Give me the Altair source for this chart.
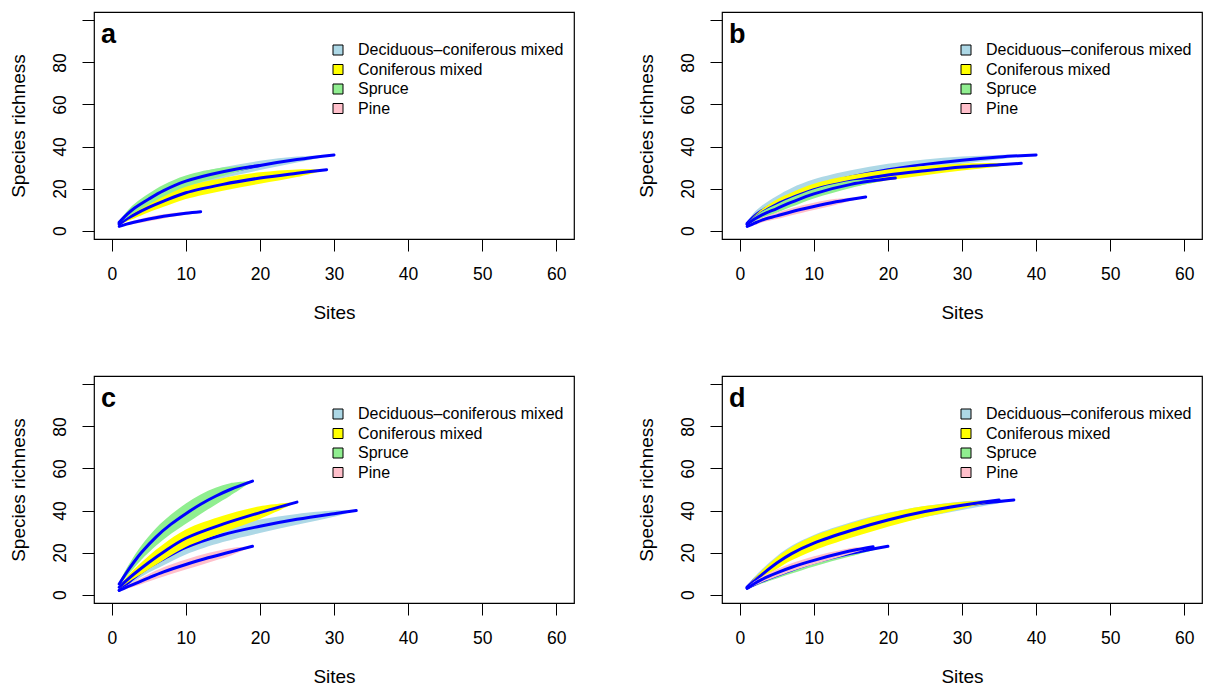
import altair as alt
import pandas as pd

TYPES = ["Deciduous\u2013coniferous mixed", "Coniferous mixed", "Spruce", "Pine"]
BAND_COLORS = ["#ADD8E6", "#FFFF00", "#90EE90", "#FFC0CB"]
LINE_COLOR = "#0000FF"
PANEL_LABELS = ["a", "b", "c", "d"]
X_TICKS = [0, 10, 20, 30, 40, 50, 60]
Y_TICKS = [0, 20, 40, 60, 80, 100]

# ---- panel a ----
A_DEC_SITES = [1, 2, 3, 5, 7, 10, 15, 20, 25, 30]
A_DEC_RICH = [3.5, 7, 10, 14.5, 18.5, 23, 27.5, 31, 33.8, 36]
A_DEC_HW = [0.5, 1.2, 1.6, 2.2, 2.5, 2.7, 2.6, 2.2, 1.4, 0]
A_CON_SITES = [1, 2, 3, 5, 7, 10, 15, 20, 25, 29]
A_CON_RICH = [3, 5.5, 7.5, 11, 14, 18, 22, 25, 27.3, 29]
A_CON_HW = [0.5, 1.2, 1.7, 2.3, 2.7, 3, 3, 2.7, 1.8, 0]
A_SPR_SITES = [1, 2, 3, 5, 7, 10, 15, 20]
A_SPR_RICH = [4, 7.5, 10.5, 15, 19, 23.5, 28, 31]
A_SPR_HW = [0.5, 1.5, 2, 2.6, 2.8, 2.7, 2, 0]
A_PIN_SITES = [1, 2, 3, 5, 7, 10, 12]
A_PIN_RICH = [2, 3.1, 4, 5.5, 6.8, 8.3, 9]
A_PIN_HW = [0.3, 0.6, 0.8, 1, 1, 0.7, 0]

# ---- panel b ----
B_DEC_SITES = [1, 2, 3, 5, 7, 10, 15, 20, 25, 30, 35, 40]
B_DEC_RICH = [3.5, 7, 9.5, 13.5, 17, 21, 25.5, 29, 31.5, 33.5, 35, 36]
B_DEC_HW = [0.8, 1.8, 2.4, 3, 3.3, 3.4, 3.2, 2.8, 2.3, 1.7, 1, 0]
B_CON_SITES = [1, 2, 3, 5, 7, 10, 15, 20, 25, 30, 35, 38]
B_CON_RICH = [3, 6, 8.5, 12.5, 15.5, 19.5, 23.5, 26.5, 28.5, 30.2, 31.3, 32]
B_CON_HW = [0.5, 1.2, 1.7, 2.3, 2.6, 2.8, 2.8, 2.6, 2.2, 1.6, 0.8, 0]
B_SPR_SITES = [1, 2, 3, 5, 7, 10, 15, 21]
B_SPR_RICH = [3, 5.5, 7.5, 10.5, 13.5, 17.5, 22, 25]
B_SPR_HW = [0.5, 1.2, 1.6, 2, 2.2, 2.2, 1.7, 0]
B_PIN_SITES = [1, 2, 3, 5, 7, 10, 13, 17]
B_PIN_RICH = [2, 3.5, 5, 7, 9, 11.5, 13.7, 16]
B_PIN_HW = [0.3, 0.8, 1.1, 1.5, 1.7, 1.7, 1.4, 0]

# ---- panel c ----
C_DEC_SITES = [1, 2, 3, 5, 7, 10, 15, 20, 25, 30, 33]
C_DEC_RICH = [2, 5, 8, 13, 17, 22.5, 28.5, 32.5, 35.8, 38.5, 40]
C_DEC_HW = [0.5, 1.2, 1.8, 2.5, 3, 3.4, 3.5, 3.2, 2.6, 1.5, 0]
C_CON_SITES = [1, 2, 3, 5, 7, 10, 15, 20, 25]
C_CON_RICH = [3.5, 6.8, 9.8, 15.3, 20.3, 26.8, 33.5, 39, 44]
C_CON_HW = [0.6, 1.5, 2.2, 3.2, 3.8, 4.2, 4, 3, 0]
C_SPR_SITES = [1, 2, 3, 4, 6, 8, 10, 12, 14, 16, 19]
C_SPR_RICH = [5, 10.5, 15.5, 20, 27.5, 33.5, 38.5, 43, 46.8, 50, 54]
C_SPR_HW = [0.8, 2, 2.8, 3.4, 4.2, 4.6, 4.8, 4.6, 4, 3, 0]
C_PIN_SITES = [1, 2, 3, 5, 7, 10, 13, 16, 19]
C_PIN_RICH = [2, 3.5, 5, 8, 10.8, 14.3, 17.5, 20.3, 23]
C_PIN_HW = [0.3, 0.8, 1.2, 1.8, 2.2, 2.4, 2.3, 1.8, 0]

# ---- panel d ----
D_DEC_SITES = [1, 2, 3, 5, 7, 10, 15, 20, 25, 30, 35, 37]
D_DEC_RICH = [3.5, 7, 10, 15.5, 20, 25, 31, 35.8, 39.5, 42.3, 44.3, 45]
D_DEC_HW = [0.6, 1.5, 2.1, 2.8, 3.2, 3.4, 3.4, 3.1, 2.6, 2, 0.8, 0]
D_CON_SITES = [1, 2, 3, 5, 7, 10, 15, 20, 25, 30, 35]
D_CON_RICH = [3.5, 6.5, 9.5, 15, 19.5, 24.5, 30.5, 35.5, 39.5, 42.5, 45]
D_CON_HW = [0.5, 1.4, 2, 2.8, 3.2, 3.5, 3.5, 3.2, 2.6, 1.6, 0]
D_SPR_SITES = [1, 2, 3, 5, 7, 10, 15, 20]
D_SPR_RICH = [3, 4.8, 6.4, 9.2, 11.7, 15.2, 19.6, 23]
D_SPR_HW = [0.4, 0.8, 1.1, 1.5, 1.7, 1.8, 1.4, 0]
D_PIN_SITES = [1, 2, 3, 5, 7, 10, 14, 16, 18]
D_PIN_RICH = [3, 5.3, 7.2, 10.3, 13, 16.3, 20, 21.5, 22.8]
D_PIN_HW = [0.4, 1, 1.3, 1.7, 1.9, 1.9, 1.5, 1, 0]

PANELS = [
    [(A_DEC_SITES, A_DEC_RICH, A_DEC_HW), (A_CON_SITES, A_CON_RICH, A_CON_HW),
     (A_SPR_SITES, A_SPR_RICH, A_SPR_HW), (A_PIN_SITES, A_PIN_RICH, A_PIN_HW)],
    [(B_DEC_SITES, B_DEC_RICH, B_DEC_HW), (B_CON_SITES, B_CON_RICH, B_CON_HW),
     (B_SPR_SITES, B_SPR_RICH, B_SPR_HW), (B_PIN_SITES, B_PIN_RICH, B_PIN_HW)],
    [(C_DEC_SITES, C_DEC_RICH, C_DEC_HW), (C_CON_SITES, C_CON_RICH, C_CON_HW),
     (C_SPR_SITES, C_SPR_RICH, C_SPR_HW), (C_PIN_SITES, C_PIN_RICH, C_PIN_HW)],
    [(D_DEC_SITES, D_DEC_RICH, D_DEC_HW), (D_CON_SITES, D_CON_RICH, D_CON_HW),
     (D_SPR_SITES, D_SPR_RICH, D_SPR_HW), (D_PIN_SITES, D_PIN_RICH, D_PIN_HW)],
]

FONT = "Liberation Sans"
CURVE = "catmull-rom"


def make_panel(label, curves):
    x_enc = alt.X(
        "sites:Q",
        scale=alt.Scale(domain=[-2.4, 62.4], nice=False, zero=False),
        axis=alt.Axis(
            values=X_TICKS, title="Sites", domain=False, grid=False,
            tickSize=12, tickColor="black", tickWidth=1,
            labelFont=FONT, labelFontSize=17.5, labelColor="black",
            labelPadding=14, labelFlush=False, labelOverlap=False,
            titleFont=FONT, titleFontSize=19, titleColor="black",
            titleFontWeight="normal", titlePadding=21,
        ),
    )

    def y_enc(field):
        return alt.Y(
            field,
            type="quantitative",
            scale=alt.Scale(domain=[-4, 104], nice=False, zero=False),
            axis=alt.Axis(
                values=Y_TICKS, title="Species richness", domain=False, grid=False,
                tickSize=12, tickColor="black", tickWidth=1,
                labelFont=FONT, labelFontSize=17.5, labelColor="black",
                labelAngle=270, labelAlign="center", labelBaseline="bottom",
                labelPadding=13, labelFlush=False, labelOverlap=False,
                labelExpr="datum.value == 100 ? '' : datum.label",
                titleFont=FONT, titleFontSize=19, titleColor="black",
                titleFontWeight="normal", titlePadding=23,
            ),
        )

    color_enc = alt.Color(
        "type:N",
        scale=alt.Scale(domain=TYPES, range=BAND_COLORS),
        legend=alt.Legend(
            title=None, orient="none", legendX=236, legendY=30,
            symbolType="square", symbolSize=100, symbolStrokeColor="black",
            symbolStrokeWidth=1, symbolOpacity=1,
            labelFont=FONT, labelFontSize=16, labelColor="black",
            labelOffset=12, rowPadding=3.5, padding=0, labelLimit=400,
        ),
    )

    layers = []
    for t, (s, r, h) in zip(TYPES, curves):
        df = pd.DataFrame({
            "type": t,
            "sites": s,
            "rich": r,
            "lo": [ri - hi for ri, hi in zip(r, h)],
            "hi": [ri + hi for ri, hi in zip(r, h)],
        })
        area = alt.Chart(df).mark_area(interpolate=CURVE, opacity=1).encode(
            x=x_enc, y=y_enc("lo"), y2="hi", color=color_enc
        )
        line = alt.Chart(df).mark_line(
            color=LINE_COLOR, strokeWidth=3, interpolate=CURVE, strokeCap="round"
        ).encode(x=x_enc, y=y_enc("rich"))
        layers += [area, line]

    letter = alt.Chart(pd.DataFrame({"t": [label]})).mark_text(
        font=FONT, fontWeight="bold", fontSize=27, align="left",
        baseline="alphabetic", color="black"
    ).encode(text="t:N", x=alt.value(7), y=alt.value(31))
    layers.append(letter)
    return alt.layer(*layers).properties(width=480, height=227)


panels = [make_panel(l, c) for l, c in zip(PANEL_LABELS, PANELS)]

chart = alt.concat(
    *panels, columns=2, spacing={"row": 137, "column": 148}, bounds="flush"
).resolve_scale(color="independent").resolve_legend(color="independent").properties(
    padding={"left": 0, "top": 3, "right": 0, "bottom": 0}
).configure_view(stroke="black", strokeWidth=1.2)

chart.save("out.html", embed_options={"renderer": "svg", "actions": False})
